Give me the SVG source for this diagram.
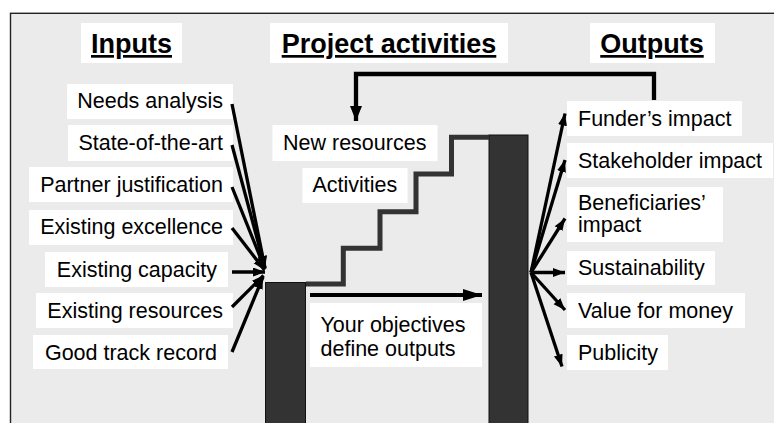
<svg xmlns="http://www.w3.org/2000/svg" width="774" height="423" viewBox="0 0 774 423">
<style>
.box{fill:#ffffff;}
.t{font-family:"Liberation Sans",Arial,sans-serif;font-size:21.5px;fill:#000;}
.h{font-family:"Liberation Sans",Arial,sans-serif;font-size:27px;font-weight:bold;fill:#000;text-decoration:underline;}
.e{text-anchor:end;}
.c{text-anchor:middle;}
.ln{stroke:#000;stroke-width:3.3;fill:none;}
.bar{fill:#333333;stroke:#111;stroke-width:1;}
</style>
<defs>
<marker id="ah" markerUnits="userSpaceOnUse" markerWidth="13" markerHeight="10" refX="12" refY="4.5" orient="auto">
<path d="M0,0 L12,4.5 L0,9 z" fill="#000"/>
</marker>
<marker id="ahb" markerUnits="userSpaceOnUse" markerWidth="20" markerHeight="13" refX="19" refY="6" orient="auto">
<path d="M0,0 L19,6 L0,12 z" fill="#000"/>
</marker>
<marker id="ahf" markerUnits="userSpaceOnUse" markerWidth="16" markerHeight="13" refX="15" refY="6" orient="auto">
<path d="M0,0 L15,6 L0,12 z" fill="#000"/>
</marker>
</defs>
<rect x="0" y="0" width="774" height="423" fill="#ffffff"/>
<rect x="10.5" y="13.3" width="770" height="420" fill="#ebebeb" stroke="#222" stroke-width="1.4"/>

<g id="title-inputs"><rect class="box" x="81" y="23" width="101" height="40"/><text class="h c" x="131.5" y="53">Inputs</text></g>
<g id="title-activities"><rect class="box" x="270" y="23" width="238" height="40"/><text class="h c" x="389" y="53">Project activities</text></g>
<g id="title-outputs"><rect class="box" x="590" y="23" width="125" height="40"/><text class="h c" x="652" y="53">Outputs</text></g>

<g id="bar-left"><rect class="bar" x="265.5" y="282.5" width="40" height="150"/></g>
<g id="bar-right"><rect class="bar" x="489" y="135" width="39" height="300"/></g>
<g id="staircase"><path d="M306,284 H343.3 V248.3 H380 V211.7 H416 V174 H451.5 V137.3 H489" fill="none" stroke="#333" stroke-width="5"/></g>

<g id="in-needs"><rect class="box" x="67" y="84" width="166" height="35"/><text class="t e" x="223" y="108">Needs analysis</text></g>
<g id="in-state"><rect class="box" x="68" y="125" width="165" height="36"/><text class="t e" x="223" y="150">State-of-the-art</text></g>
<g id="in-partner"><rect class="box" x="29" y="167" width="204" height="35"/><text class="t e" x="223" y="192">Partner justification</text></g>
<g id="in-excellence"><rect class="box" x="29" y="210" width="204" height="35"/><text class="t e" x="223" y="234">Existing excellence</text></g>
<g id="in-capacity"><rect class="box" x="45" y="252" width="183" height="35"/><text class="t e" x="217" y="277">Existing capacity</text></g>
<g id="in-resources"><rect class="box" x="36" y="293" width="197" height="35"/><text class="t e" x="223" y="318">Existing resources</text></g>
<g id="in-track"><rect class="box" x="33" y="335" width="195" height="34"/><text class="t e" x="217" y="360">Good track record</text></g>

<g id="act-new"><rect class="box" x="272.5" y="125" width="165" height="36"/><text class="t" x="283" y="150">New resources</text></g>
<g id="act-activities"><rect class="box" x="302.5" y="168" width="105" height="35"/><text class="t" x="312.5" y="192">Activities</text></g>
<g id="objectives"><rect class="box" x="310" y="303" width="172" height="64"/><text class="t" x="320.5" y="331.5">Your objectives</text><text class="t" x="320.5" y="356">define outputs</text></g>

<g id="out-funder"><rect class="box" x="567" y="101" width="175" height="35"/><text class="t" x="578" y="126">Funder’s impact</text></g>
<g id="out-stakeholder"><rect class="box" x="567" y="143" width="206" height="35"/><text class="t" x="578" y="168">Stakeholder impact</text></g>
<g id="out-beneficiaries"><rect class="box" x="567" y="187" width="156" height="55"/><text class="t" x="578" y="209.5">Beneficiaries’</text><text class="t" x="578" y="231.5">impact</text></g>
<g id="out-sustainability"><rect class="box" x="567" y="251" width="148" height="34"/><text class="t" x="578" y="274.5">Sustainability</text></g>
<g id="out-value"><rect class="box" x="567" y="293" width="178" height="35"/><text class="t" x="578" y="318">Value for money</text></g>
<g id="out-publicity"><rect class="box" x="567" y="335" width="101" height="35"/><text class="t" x="578" y="360">Publicity</text></g>

<g id="connectors">
<line class="ln" x1="232" y1="104" x2="265" y2="268" marker-end="url(#ah)"/>
<line class="ln" x1="232" y1="145" x2="265" y2="268" marker-end="url(#ah)"/>
<line class="ln" x1="232" y1="187" x2="265" y2="269" marker-end="url(#ah)"/>
<line class="ln" x1="232" y1="228" x2="264.5" y2="270" marker-end="url(#ah)"/>
<line class="ln" x1="232" y1="272" x2="265" y2="272" marker-end="url(#ah)"/>
<line class="ln" x1="232" y1="307" x2="263.5" y2="275.5" marker-end="url(#ah)"/>
<line class="ln" x1="232" y1="352" x2="263" y2="277" marker-end="url(#ah)"/>

<line class="ln" x1="531" y1="272.5" x2="565" y2="113.5" marker-end="url(#ah)"/>
<line class="ln" x1="531" y1="272.5" x2="565" y2="160" marker-end="url(#ah)"/>
<line class="ln" x1="531" y1="272.5" x2="565" y2="218.5" marker-end="url(#ah)"/>
<line class="ln" x1="531" y1="272.5" x2="565" y2="272.5" marker-end="url(#ah)"/>
<line class="ln" x1="531" y1="272.5" x2="565" y2="310" marker-end="url(#ah)"/>
<line class="ln" x1="531" y1="272.5" x2="562" y2="366.5" marker-end="url(#ah)"/>

<line x1="310" y1="295" x2="482" y2="295" stroke="#000" stroke-width="4" marker-end="url(#ahb)"/>
<path d="M654,100 V74 H356 V121" fill="none" stroke="#000" stroke-width="4.3" stroke-linejoin="miter" marker-end="url(#ahf)"/>
</g>
</svg>
